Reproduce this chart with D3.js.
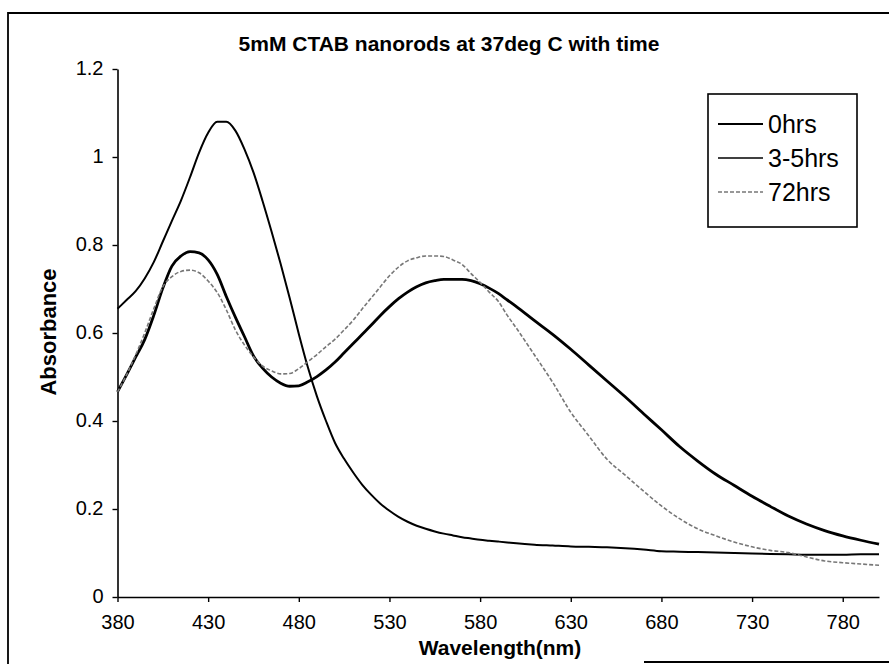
<!DOCTYPE html>
<html>
<head>
<meta charset="utf-8">
<script src="https://cdn.jsdelivr.net/npm/d3@7"></script>
<style>
  body { margin: 0; background: #fff; }
  text { font-family: 'Liberation Sans', Arial, sans-serif; fill: #000; }
</style>
</head>
<body>
<div class="chart"></div>
<script>
// Wavelength (nm) of each reading
const wavelengths = [
  380, 385, 390, 395, 400, 405, 410, 415, 420, 425, 430, 435, 440, 445, 450, 455,
  460, 465, 470, 475, 480, 485, 490, 495, 500, 505, 510, 515, 520, 525, 530, 535,
  540, 545, 550, 555, 560, 565, 570, 575, 580, 585, 590, 595, 600, 610, 620, 630,
  640, 650, 660, 670, 680, 690, 700, 710, 720, 730, 740, 750, 760, 770, 780, 790, 800
]

// Absorbance readings
const abs0hrs = [
  0.466, 0.505, 0.545, 0.585, 0.640, 0.702, 0.752, 0.775, 0.785, 0.782, 0.766, 0.733, 0.683, 0.636, 0.592, 0.548,
  0.520, 0.500, 0.486, 0.479, 0.480, 0.489, 0.501, 0.516, 0.534, 0.555, 0.576, 0.597, 0.618, 0.640, 0.660, 0.678,
  0.693, 0.705, 0.714, 0.719, 0.722, 0.722, 0.722, 0.719, 0.712, 0.702, 0.690, 0.675, 0.660, 0.628, 0.597, 0.563,
  0.527, 0.491, 0.455, 0.417, 0.380, 0.342, 0.309, 0.279, 0.254, 0.229, 0.206, 0.184, 0.166, 0.151, 0.139, 0.129, 0.120
]
const abs35hrs = [
  0.655, 0.675, 0.695, 0.724, 0.761, 0.808, 0.855, 0.901, 0.954, 1.010, 1.055, 1.080, 1.080, 1.060, 1.018, 0.965,
  0.900, 0.830, 0.757, 0.679, 0.598, 0.522, 0.456, 0.400, 0.350, 0.314, 0.283, 0.255, 0.232, 0.212, 0.196, 0.182,
  0.171, 0.162, 0.155, 0.149, 0.144, 0.140, 0.136, 0.133, 0.130, 0.128, 0.126, 0.124, 0.122, 0.119, 0.117, 0.115,
  0.114, 0.113, 0.111, 0.108, 0.104, 0.103, 0.102, 0.101, 0.100, 0.099, 0.098, 0.097, 0.096, 0.096, 0.096, 0.097, 0.097
]
const abs72hrs = [
  0.466, 0.505, 0.550, 0.600, 0.655, 0.705, 0.728, 0.740, 0.743, 0.737, 0.718, 0.692, 0.653, 0.607, 0.573, 0.546,
  0.525, 0.514, 0.507, 0.508, 0.519, 0.535, 0.551, 0.569, 0.586, 0.607, 0.629, 0.655, 0.680, 0.705, 0.730, 0.750,
  0.764, 0.771, 0.775, 0.775, 0.774, 0.766, 0.756, 0.735, 0.715, 0.693, 0.672, 0.640, 0.611, 0.550, 0.488, 0.420,
  0.366, 0.313, 0.277, 0.241, 0.207, 0.178, 0.155, 0.139, 0.125, 0.114, 0.106, 0.101, 0.091, 0.082, 0.078, 0.075, 0.072
]

const seriesNames = ['0hrs', '3-5hrs', '72hrs']
const xTicks = [380, 430, 480, 530, 580, 630, 680, 730, 780]
const yTicks = [0, 0.2, 0.4, 0.6, 0.8, 1.0, 1.2]
const yTickLabels = ['0', '0.2', '0.4', '0.6', '0.8', '1', '1.2']

const width = 889
const height = 664
const plot = { left: 117.5, right: 879, top: 69, bottom: 597 }

const svg = d3.select('.chart').append('svg')
  .attr('width', width)
  .attr('height', height)

// Outer frame of the scanned sheet
svg.append('path')
  .attr('d', 'M889,13H8V664M644,662H889')
  .attr('fill', 'none')
  .attr('stroke', '#000')
  .attr('stroke-width', 1.8)

const x = d3.scaleLinear().domain([380, 800]).range([plot.left, plot.right])
const y = d3.scaleLinear().domain([0, 1.2]).range([plot.bottom, plot.top])

const xAxis = svg.append('g')
  .attr('transform', `translate(0,${plot.bottom})`)
  .call(d3.axisBottom(x).tickValues(xTicks).tickSize(5).tickSizeOuter(0).tickPadding(13))
const yAxis = svg.append('g')
  .attr('transform', `translate(${plot.left},0)`)
  .call(d3.axisLeft(y).tickValues(yTicks).tickFormat((d, i) => yTickLabels[i])
    .tickSize(5).tickSizeOuter(0).tickPadding(9))

for (const ax of [xAxis, yAxis]) {
  ax.select('.domain').attr('stroke-width', 1.6)
  ax.selectAll('.tick line').attr('stroke-width', 1.4)
  ax.selectAll('.tick text')
    .style('font-family', "'Liberation Sans', Arial, sans-serif")
    .style('font-size', '20px')
}
yAxis.selectAll('.tick text').attr('dy', '0.25em')

// Curves
const series = [
  { name: seriesNames[0], values: abs0hrs, color: '#000', width: 2.8, dash: null },
  { name: seriesNames[1], values: abs35hrs, color: '#000', width: 2, dash: null },
  { name: seriesNames[2], values: abs72hrs, color: '#777', width: 1.6, dash: '4,2' }
]

const line = d3.line()
  .x((d, i) => x(wavelengths[i]))
  .y(d => y(d))
  .curve(d3.curveMonotoneX)

svg.append('g').selectAll('path')
  .data(series)
  .join('path')
  .attr('d', s => line(s.values))
  .attr('fill', 'none')
  .attr('stroke', s => s.color)
  .attr('stroke-width', s => s.width)
  .attr('stroke-dasharray', s => s.dash)

// Titles
svg.append('text')
  .attr('x', 449)
  .attr('y', 51)
  .attr('text-anchor', 'middle')
  .style('font-size', '21px')
  .style('font-weight', 'bold')
  .text('5mM CTAB nanorods at 37deg C with time')

svg.append('text')
  .attr('x', 500)
  .attr('y', 655)
  .attr('text-anchor', 'middle')
  .style('font-size', '21px')
  .style('font-weight', 'bold')
  .text('Wavelength(nm)')

svg.append('text')
  .attr('transform', 'translate(56,332) rotate(-90)')
  .attr('text-anchor', 'middle')
  .style('font-size', '22px')
  .style('font-weight', 'bold')
  .text('Absorbance')

// Legend
const legend = svg.append('g')
legend.append('rect')
  .attr('x', 708)
  .attr('y', 94)
  .attr('width', 149)
  .attr('height', 133)
  .attr('fill', '#fff')
  .attr('stroke', '#000')
  .attr('stroke-width', 1.6)

legend.selectAll('line')
  .data(series)
  .join('line')
  .attr('x1', 718)
  .attr('x2', 763)
  .attr('y1', (d, i) => 124 + i * 34)
  .attr('y2', (d, i) => 124 + i * 34)
  .attr('stroke', s => s.color)
  .attr('stroke-width', s => s.width * 0.8)
  .attr('stroke-dasharray', s => s.dash)

legend.selectAll('text')
  .data(series)
  .join('text')
  .attr('x', 768)
  .attr('y', (d, i) => 124 + i * 34)
  .attr('dy', '0.36em')
  .style('font-size', '25px')
  .text(s => s.name)
</script>
</body>
</html>
